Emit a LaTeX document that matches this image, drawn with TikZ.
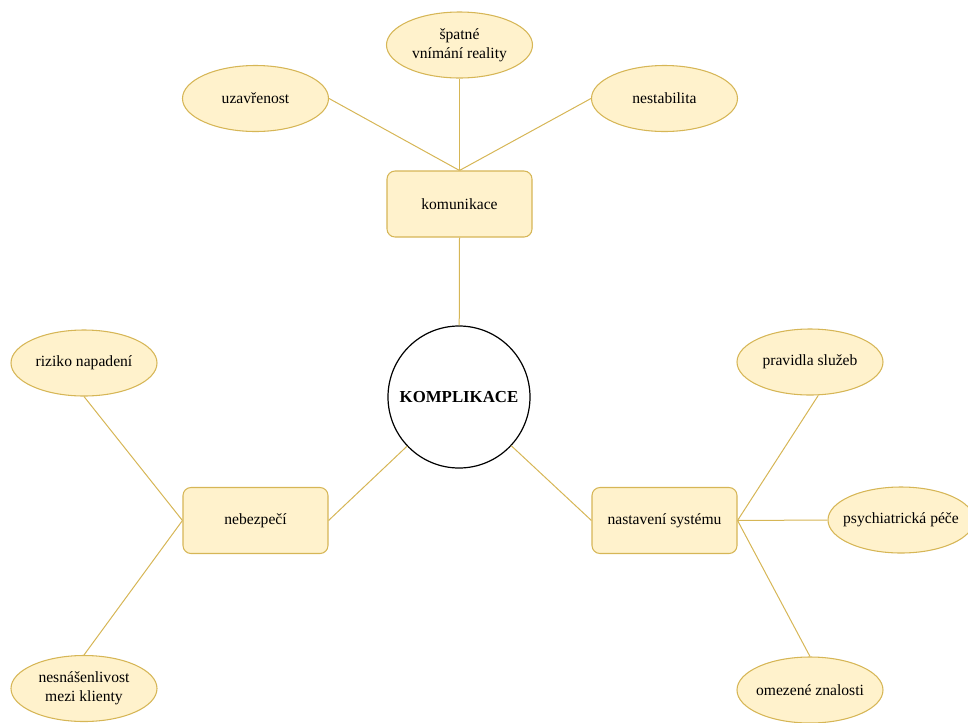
\documentclass[tikz,border=0pt]{standalone}
\usepackage{fontspec}
\setmainfont{Liberation Serif}
\usetikzlibrary{shapes.geometric}
\definecolor{notefill}{HTML}{FFF2CC}
\definecolor{notedraw}{HTML}{D6B656}
\begin{document}
\begin{tikzpicture}[x=0.75pt,y=-0.75pt,
  every node/.style={font=\fontsize{11.7}{14.25}\selectfont, align=center, text=black},
  topic/.style={draw=notedraw, fill=notefill, line width=0.8pt, rounded corners=6pt,
    minimum width=108.75pt, minimum height=49.5pt, inner sep=0pt},
  % fixed-size ellipse; its caption is set as a centred label so the outline keeps its size
  leaf/.style={ellipse, draw=notedraw, fill=notefill, line width=0.8pt,
    minimum width=109.5pt, minimum height=49.5pt, inner sep=0pt,
    label={[inner sep=0pt]center:{#1}}},
  hub/.style={circle, draw=black, line width=0.9pt, minimum size=106.5pt, inner sep=0pt,
    font=\fontsize{12.6}{14}\selectfont\bfseries},
  link/.style={draw=notedraw, line width=0.75pt}]
\useasboundingbox (0,0) rectangle (968,722);

% central node
\node[hub] (hub) at (459,397) {KOMPLIKACE};

% main branches
\node[topic] (kom) at (459.5,204) {komunikace};
\node[topic] (neb) at (255.5,520.5) {nebezpečí};
\node[topic] (nas) at (664.5,520.5) {nastavení systému};

% communication issues
\node[leaf={uzavřenost}] (uza) at (255.5,98.5) {};
\node[leaf={špatné\\vnímání reality}] (spa) at (459.5,45) {};
\node[leaf={nestabilita}] (nes) at (664.5,98.5) {};

% dangers
\node[leaf={riziko napadení}] (riz) at (84,363) {};
\node[leaf={nesnášenlivost\\mezi klienty}] (nsn) at (84,688.5) {};

% system settings
\node[leaf={pravidla služeb}] (pra) at (810,362) {};
\node[leaf={psychiatrická péče}] (psy) at (901,520) {};
\node[leaf={omezené znalosti}] (ome) at (810,690) {};

% connectors
\draw[link] (kom.north) -- (uza.east);
\draw[link] (kom.north) -- (spa.south);
\draw[link] (kom.north) -- (nes.west);
\draw[link] (kom.south) -- (hub);
\draw[link] (hub) -- (neb.east);
\draw[link] (hub) -- (nas.west);
\draw[link] (neb.west) -- (riz.south);
\draw[link] (neb.west) -- (nsn.north);
\draw[link] (nas.east) -- (pra.-76);
\draw[link] (nas.east) -- (psy.west);
\draw[link] (nas.east) -- (ome.north);
\end{tikzpicture}
\end{document}
